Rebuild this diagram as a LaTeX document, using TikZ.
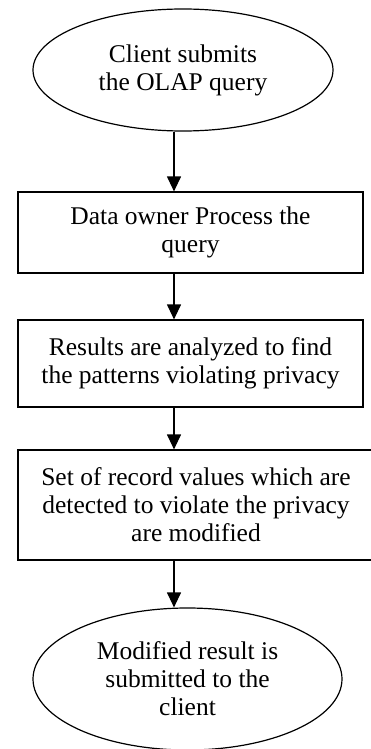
\documentclass[tikz,border=0pt]{standalone}
\usepackage{fontspec}
\setmainfont{Liberation Serif}
\usetikzlibrary{shapes.geometric,arrows.meta}
\begin{document}
\begin{tikzpicture}[x=1pt,y=-1pt,
  every node/.style={font=\fontsize{25.5}{28}\selectfont, align=center, inner sep=0pt},
  terminal/.style={ellipse, draw, line width=1.2pt},
  stepbox/.style={rectangle, draw, line width=1.2pt},
  flow/.style={line width=1.2pt, -{Triangle[width=14pt,length=15pt]}}]
\useasboundingbox (0,0) rectangle (371,749);
\node[terminal, minimum width=300pt, minimum height=122pt] (start) at (183,70)
  {Client submits\\the OLAP query};
\node[stepbox, minimum width=345pt, minimum height=81pt] (process) at (190.5,232.5)
  {Data owner Process the\\query};
\node[stepbox, minimum width=345pt, minimum height=87pt] (analyse) at (190.5,363.5)
  {Results are analyzed to find\\the patterns violating privacy};
\node[stepbox, minimum width=356pt, minimum height=110pt] (modify) at (196,505)
  {Set of record values which are\\detected to violate the privacy\\are modified};
\node[terminal, minimum width=309pt, minimum height=142pt] (finish) at (187.5,679)
  {Modified result is\\submitted to the\\client};
% connectors run down a common vertical line
\coordinate (axis) at (174,0);
\draw[flow] (start.south -| axis) -- (process.north -| axis);
\draw[flow] (process.south -| axis) -- (analyse.north -| axis);
\draw[flow] (analyse.south -| axis) -- (modify.north -| axis);
\draw[flow] (modify.south -| axis) -- (finish.north -| axis);
\end{tikzpicture}
\end{document}
